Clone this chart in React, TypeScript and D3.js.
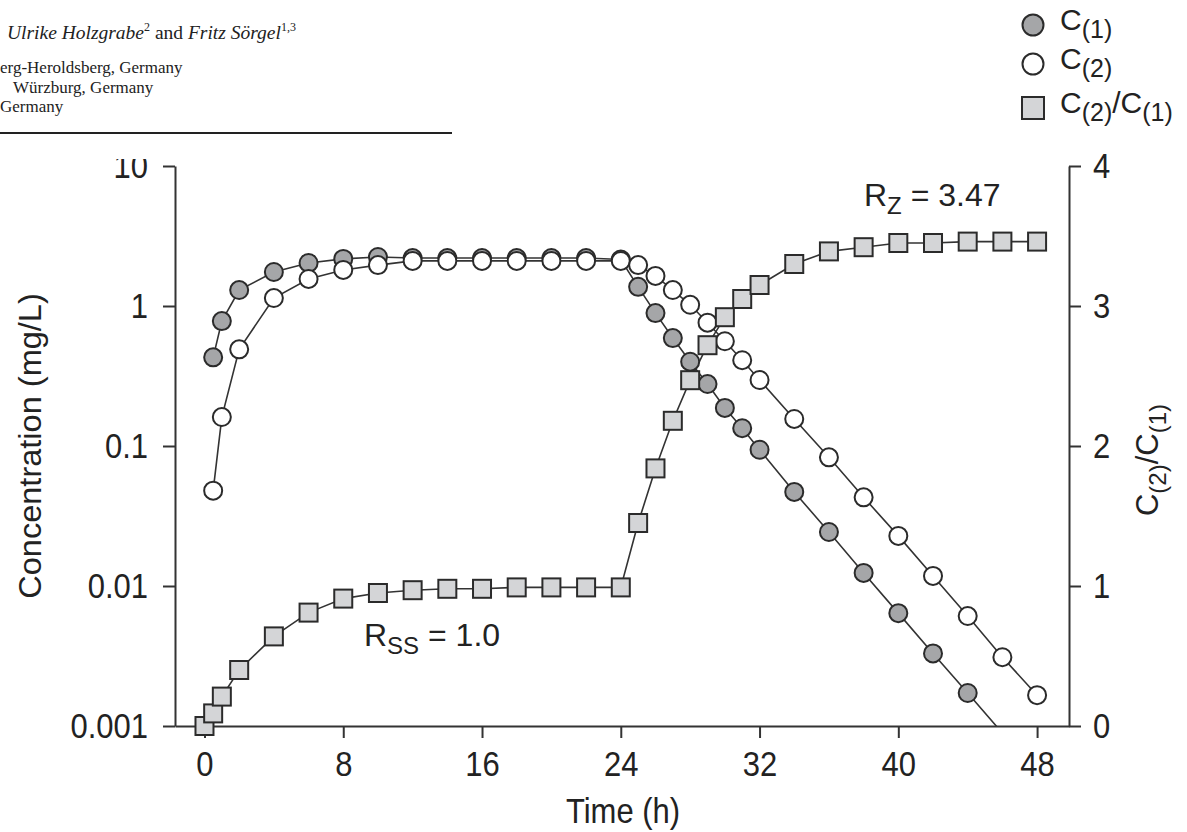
import React, { useEffect, useRef } from 'react';
import * as d3 from 'd3';

const width = 1187;
const height = 832;
const margin = { top: 166, left: 175, right: 118, bottom: 106 };

// concentration of the first compartment, C(1), mg/L
const timesC1 = [0.5, 1, 2, 4, 6, 8, 10, 12, 14, 16, 18, 20, 22, 24, 25, 26, 27, 28, 29, 30, 31, 32, 34, 36, 38, 40, 42, 44, 46];
const valuesC1 = [0.43, 0.78, 1.3, 1.75, 2.03, 2.17, 2.24, 2.2, 2.2, 2.2, 2.2, 2.2, 2.2, 2.15, 1.37, 0.89, 0.59, 0.40, 0.277, 0.187, 0.134, 0.094, 0.047, 0.0243, 0.0124, 0.0064, 0.0033, 0.00172, 0.00089];

// concentration of the second compartment, C(2), mg/L
const timesC2 = [0.5, 1, 2, 4, 6, 8, 10, 12, 14, 16, 18, 20, 22, 24, 25, 26, 27, 28, 29, 30, 31, 32, 34, 36, 38, 40, 42, 44, 46, 48];
const valuesC2 = [0.048, 0.161, 0.49, 1.14, 1.56, 1.81, 1.96, 2.1, 2.1, 2.1, 2.1, 2.1, 2.1, 2.1, 1.96, 1.64, 1.3, 1.02, 0.76, 0.56, 0.41, 0.296, 0.156, 0.083, 0.043, 0.0228, 0.0118, 0.0061, 0.0031, 0.00166];

// ratio C(2)/C(1), right axis
const timesRatio = [0, 0.5, 1, 2, 4, 6, 8, 10, 12, 14, 16, 18, 20, 22, 24, 25, 26, 27, 28, 29, 30, 31, 32, 34, 36, 38, 40, 42, 44, 46, 48];
const valuesRatio = [0, 0.09, 0.21, 0.40, 0.64, 0.81, 0.91, 0.95, 0.97, 0.98, 0.98, 0.99, 0.99, 0.99, 0.99, 1.45, 1.84, 2.18, 2.47, 2.72, 2.92, 3.05, 3.15, 3.30, 3.39, 3.42, 3.45, 3.45, 3.46, 3.46, 3.46];

const concTicks = [0.001, 0.01, 0.1, 1, 10];
const concTickLabels = ['0.001', '0.01', '0.1', '1', '10'];
const timeTicks = [0, 8, 16, 24, 32, 40, 48];
const ratioTicks = [0, 1, 2, 3, 4];

const font = '"Liberation Sans", Arial, Helvetica, sans-serif';
const serif = '"Liberation Serif", "Times New Roman", serif';
const ink = '#2b2b2b';
const darkFill = '#a5a6a8';
const lightFill = '#d4d5d7';
const stretch = 'scale(1,1.12)';

export default function App() {
    const ref = useRef<SVGSVGElement>(null);

    useEffect(() => {
        const svg = d3.select(ref.current);
        svg.selectAll('*').remove();

        const x = d3.scaleLinear([-1.7, 49.84], [margin.left, width - margin.right]);
        const y = d3.scaleLog([0.001, 10], [height - margin.bottom, margin.top]);
        const y2 = d3.scaleLinear([0, 4], [height - margin.bottom, margin.top]);

        const defs = svg.append('defs');
        defs.append('clipPath').attr('id', 'plot-clip')
            .append('rect')
            .attr('x', margin.left).attr('y', margin.top)
            .attr('width', width - margin.left - margin.right)
            .attr('height', height - margin.top - margin.bottom);
        // the page crop cuts the top of the "10" label
        defs.append('clipPath').attr('id', 'left-clip')
            .append('rect').attr('x', -200).attr('y', 159).attr('width', 220).attr('height', 700);

        // page header fragment
        const head = svg.append('g').attr('font-family', serif).attr('fill', '#222');
        const t1 = head.append('text').attr('x', 7).attr('y', 39).attr('font-size', 19.5);
        t1.append('tspan').attr('font-style', 'italic').text('Ulrike Holzgrabe');
        t1.append('tspan').attr('font-size', 12).attr('dy', -8).text('2');
        t1.append('tspan').attr('dy', 8).text(' and ');
        t1.append('tspan').attr('font-style', 'italic').text('Fritz Sörgel');
        t1.append('tspan').attr('font-size', 12).attr('dy', -8).text('1,3');
        head.append('text').attr('x', 0).attr('y', 73).attr('font-size', 17).text('erg-Heroldsberg, Germany');
        head.append('text').attr('x', 13).attr('y', 93).attr('font-size', 17).text('Würzburg, Germany');
        head.append('text').attr('x', 0).attr('y', 112).attr('font-size', 17).text('Germany');
        head.append('line').attr('x1', 0).attr('x2', 452).attr('y1', 133).attr('y2', 133)
            .attr('stroke', '#222').attr('stroke-width', 2);

        // axes
        const styleAxis = g => {
            g.attr('font-family', font).attr('font-size', 31);
            g.selectAll('text').attr('fill', '#222').attr('transform', stretch);
            g.selectAll('line,path').attr('stroke', '#333').attr('stroke-width', 2);
        };
        svg.append('g')
            .attr('transform', `translate(${margin.left},0)`)
            .attr('clip-path', 'url(#left-clip)')
            .call(d3.axisLeft(y).tickValues(concTicks).tickFormat((d, i) => concTickLabels[i])
                .tickSize(12).tickSizeOuter(0).tickPadding(15))
            .call(styleAxis);
        svg.append('g')
            .attr('transform', `translate(${width - margin.right},0)`)
            .call(d3.axisRight(y2).tickValues(ratioTicks).tickFormat(d3.format('d'))
                .tickSize(12).tickSizeOuter(0).tickPadding(12))
            .call(styleAxis);
        svg.append('g')
            .attr('transform', `translate(0,${height - margin.bottom})`)
            .call(d3.axisBottom(x).tickValues(timeTicks).tickFormat(d3.format('d'))
                .tickSize(12).tickSizeOuter(0).tickPadding(11))
            .call(styleAxis);

        // axis titles
        svg.append('text')
            .attr('transform', `translate(41,446) rotate(-90) scale(1.05,1)`)
            .attr('text-anchor', 'middle').attr('font-family', font).attr('font-size', 31).attr('fill', '#222')
            .text('Concentration (mg/L)');
        svg.append('text')
            .attr('transform', `translate(623,823) ${stretch}`)
            .attr('text-anchor', 'middle').attr('font-family', font).attr('font-size', 31).attr('fill', '#222')
            .text('Time (h)');
        const rt = svg.append('text')
            .attr('transform', `translate(1158,460) rotate(-90)`)
            .attr('text-anchor', 'middle').attr('font-family', font).attr('font-size', 31).attr('fill', '#222');
        rt.append('tspan').text('C');
        rt.append('tspan').attr('font-size', 24).attr('dy', 8).text('(2)');
        rt.append('tspan').attr('dy', -8).text('/C');
        rt.append('tspan').attr('font-size', 24).attr('dy', 8).text('(1)');

        // series
        const concLine = d3.line<[number, number]>().x(d => x(d[0])).y(d => y(d[1]));
        const ratioLine = d3.line<[number, number]>().x(d => x(d[0])).y(d => y2(d[1]));
        const c1 = d3.zip(timesC1, valuesC1) as [number, number][];
        const c2 = d3.zip(timesC2, valuesC2) as [number, number][];
        const ratio = d3.zip(timesRatio, valuesRatio) as [number, number][];

        const lines = svg.append('g').attr('clip-path', 'url(#plot-clip)')
            .attr('fill', 'none').attr('stroke', '#333').attr('stroke-width', 1.6);

        const drawCircles = (data, fill) => {
            lines.append('path').attr('d', concLine(data));
            svg.append('g').selectAll('circle')
                .data(data.filter(d => d[1] >= 0.001))
                .join('circle')
                .attr('cx', d => x(d[0]))
                .attr('cy', d => y(d[1]))
                .attr('r', 9)
                .attr('fill', fill)
                .attr('stroke', ink)
                .attr('stroke-width', 2);
        };
        drawCircles(c1, darkFill);
        drawCircles(c2, '#fff');

        lines.append('path').attr('d', ratioLine(ratio));
        svg.append('g').selectAll('rect')
            .data(ratio)
            .join('rect')
            .attr('x', d => x(d[0]) - 9)
            .attr('y', d => y2(d[1]) - 9)
            .attr('width', 18)
            .attr('height', 18)
            .attr('fill', lightFill)
            .attr('stroke', ink)
            .attr('stroke-width', 2);

        // annotations
        const ann = (px, py, main, sub, rest) => {
            const t = svg.append('text').attr('x', px).attr('y', py)
                .attr('font-family', font).attr('font-size', 32).attr('fill', '#222');
            t.append('tspan').text(main);
            t.append('tspan').attr('font-size', 24).attr('dy', 8).text(sub);
            t.append('tspan').attr('dy', -8).text(rest);
        };
        ann(864, 206, 'R', 'Z', ' = 3.47');
        ann(364, 646, 'R', 'SS', ' = 1.0');

        // legend
        const legend = svg.append('g').attr('font-family', font).attr('fill', '#222');
        const legendItem = (cy, shape, fill, parts) => {
            if (shape === 'circle') {
                legend.append('circle').attr('cx', 1033).attr('cy', cy).attr('r', 10.5)
                    .attr('fill', fill).attr('stroke', ink).attr('stroke-width', 2);
            } else {
                legend.append('rect').attr('x', 1022).attr('y', cy - 11).attr('width', 22).attr('height', 22)
                    .attr('fill', fill).attr('stroke', ink).attr('stroke-width', 2);
            }
            const t = legend.append('text').attr('x', 1060).attr('y', cy + 5).attr('font-size', 30);
            parts.forEach(([s, isSub], i) => {
                const ts = t.append('tspan').text(s);
                if (isSub) ts.attr('font-size', 25).attr('dy', 8);
                else if (i > 0) ts.attr('dy', -8);
            });
        };
        legendItem(25, 'circle', darkFill, [['C', false], ['(1)', true]]);
        legendItem(64, 'circle', '#fff', [['C', false], ['(2)', true]]);
        legendItem(108, 'rect', lightFill, [['C', false], ['(2)', true], ['/C', false], ['(1)', true]]);
    }, []);

    return (
        <svg ref={ref} width={width} height={height} viewBox={`0 0 ${width} ${height}`}
            style={{ position: 'absolute', left: 0, top: 0, background: '#fff' }} />
    );
}
